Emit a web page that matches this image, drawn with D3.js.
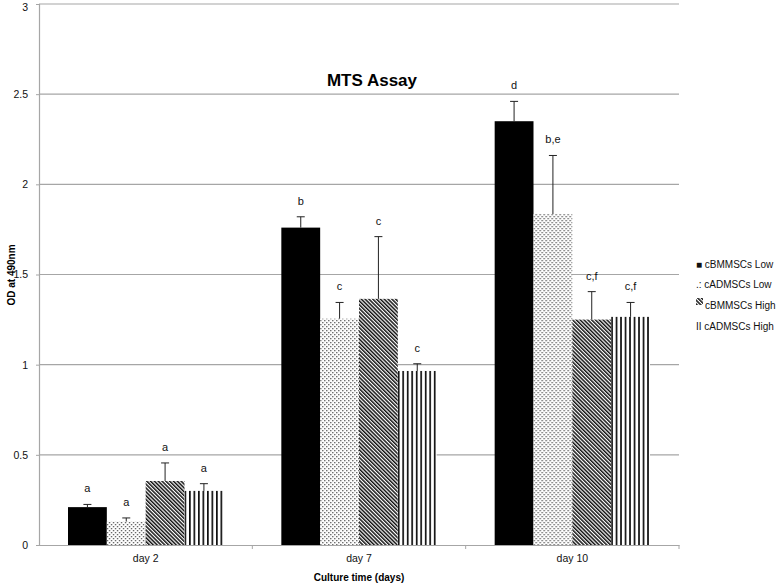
<!DOCTYPE html>
<html>
<head>
<meta charset="utf-8">
<script src="https://cdn.jsdelivr.net/npm/d3@7"></script>
<style>
  body { margin: 0; background: #fff; }
  svg { display: block; font-family: 'Liberation Sans', Arial, sans-serif; }
  .grid line { stroke: #a6a6a6; stroke-width: 1.2; }
  .lbl { font-size: 11px; fill: #111; text-anchor: middle; }
  .tick-label { font-size: 10.5px; fill: #111; }
</style>
</head>
<body>
<div id="chart"></div>
<script>
const days = ['day 2', 'day 7', 'day 10'];
const series = ['cBMMSCs Low', 'cADMSCs Low', 'cBMMSCs High', 'cADMSCs High'];
const means = [
  [0.21, 0.13, 0.355, 0.30],
  [1.76, 1.255, 1.365, 0.965],
  [2.35, 1.835, 1.25, 1.265]
];
const errors = [
  [0.015, 0.02, 0.10, 0.04],
  [0.06, 0.09, 0.345, 0.04],
  [0.11, 0.325, 0.155, 0.08]
];
const letters = [
  ['a', 'a', 'a', 'a'],
  ['b', 'c', 'c', 'c'],
  ['d', 'b,e', 'c,f', 'c,f']
];
const yTicks = [0, 0.5, 1, 1.5, 2, 2.5, 3];
const legendMarks = ['■', '.:', '', 'II'];

const width = 778, height = 583;
const plot = { left: 39, right: 679, top: 4, bottom: 545 };

const svg = d3.select('#chart').append('svg')
  .attr('width', width)
  .attr('height', height);

// fill patterns for the three non-solid series
const defs = svg.append('defs');

const dots = defs.append('pattern')
  .attr('id', 'dots')
  .attr('patternUnits', 'userSpaceOnUse')
  .attr('width', 4).attr('height', 4);
dots.append('rect').attr('width', 4).attr('height', 4).attr('fill', '#fff');
dots.append('rect').attr('x', 0).attr('y', 0).attr('width', 1.3).attr('height', 1.3).attr('fill', '#555');
dots.append('rect').attr('x', 2).attr('y', 2).attr('width', 1.3).attr('height', 1.3).attr('fill', '#555');

const diag = defs.append('pattern')
  .attr('id', 'diag')
  .attr('patternUnits', 'userSpaceOnUse')
  .attr('width', 2.7).attr('height', 3)
  .attr('patternTransform', 'rotate(-45)');
diag.append('rect').attr('width', 2.7).attr('height', 3).attr('fill', '#fff');
diag.append('rect').attr('x', 0).attr('y', 0).attr('width', 1.5).attr('height', 3).attr('fill', '#111');

const vert = defs.append('pattern')
  .attr('id', 'vert')
  .attr('patternUnits', 'userSpaceOnUse')
  .attr('width', 4.5).attr('height', 4);
vert.append('rect').attr('width', 4.5).attr('height', 4).attr('fill', '#fff');
vert.append('rect').attr('x', 0).attr('y', 0).attr('width', 1.7).attr('height', 4).attr('fill', '#111');

const fills = ['#000', 'url(#dots)', 'url(#diag)', 'url(#vert)'];

const x0 = d3.scaleBand().domain(days).range([plot.left, plot.right]);
const x1 = d3.scaleBand().domain(series).range([29, x0.bandwidth() - 29]);
const y = d3.scaleLinear().domain([0, 3]).range([plot.bottom, plot.top]);

// gridlines
svg.append('g')
  .attr('class', 'grid')
  .selectAll('line')
  .data(yTicks.slice(1))
  .join('line')
  .attr('x1', plot.left).attr('x2', plot.right)
  .attr('y1', d => y(d)).attr('y2', d => y(d));

// y axis
const yAxis = svg.append('g')
  .attr('transform', `translate(${plot.left},0)`)
  .call(d3.axisLeft(y).tickValues(yTicks).tickSize(3).tickPadding(8).tickFormat(d3.format('')));
yAxis.select('.domain').attr('stroke', '#a6a6a6').attr('stroke-width', 1.2);
yAxis.selectAll('.tick line').attr('stroke', '#a6a6a6');
yAxis.selectAll('text').attr('class', 'tick-label').style('font-size', '10.5px');
// keep the top label inside the frame
yAxis.selectAll('.tick').filter(d => d === 3).select('text').attr('y', 3);

// x axis
const xAxis = svg.append('g')
  .attr('transform', `translate(0,${plot.bottom})`)
  .call(d3.axisBottom(x0).tickSize(0).tickPadding(10));
xAxis.select('.domain').attr('stroke', '#a6a6a6').attr('stroke-width', 1.2);
xAxis.selectAll('text').attr('class', 'tick-label').style('font-size', '10.5px');
xAxis.selectAll('.sep')
  .data(days)
  .join('line')
  .attr('x1', d => x0(d) + x0.bandwidth()).attr('x2', d => x0(d) + x0.bandwidth())
  .attr('y1', 0).attr('y2', 4)
  .attr('stroke', '#a6a6a6');

// bars
const rows = [];
days.forEach((d, i) => series.forEach((s, j) => {
  rows.push({ day: d, s, j, v: means[i][j], e: errors[i][j], t: letters[i][j] });
}));

const groups = svg.append('g')
  .selectAll('g')
  .data(rows)
  .join('g')
  .attr('transform', d => `translate(${x0(d.day) + x1(d.s)},0)`);

groups.append('rect')
  .attr('x', 0)
  .attr('width', x1.bandwidth())
  .attr('y', d => y(d.v))
  .attr('height', d => y(0) - y(d.v))
  .attr('fill', d => fills[d.j]);

const bw = x1.bandwidth();
groups.append('line')
  .attr('x1', bw / 2).attr('x2', bw / 2)
  .attr('y1', d => y(d.v)).attr('y2', d => y(d.v + d.e))
  .attr('stroke', '#222').attr('stroke-width', 1);
groups.append('line')
  .attr('x1', bw / 2 - 4).attr('x2', bw / 2 + 4)
  .attr('y1', d => y(d.v + d.e)).attr('y2', d => y(d.v + d.e))
  .attr('stroke', '#222').attr('stroke-width', 1);

groups.append('text')
  .attr('class', 'lbl')
  .attr('x', bw / 2)
  .attr('y', d => y(d.v + d.e) - 12)
  .text(d => d.t);

// title and axis titles
svg.append('text')
  .attr('x', 372).attr('y', 86)
  .attr('text-anchor', 'middle')
  .style('font-size', '17px').style('font-weight', 'bold')
  .text('MTS Assay');

svg.append('text')
  .attr('transform', 'translate(15,275) rotate(-90)')
  .attr('text-anchor', 'middle')
  .style('font-size', '10px').style('font-weight', 'bold')
  .text('OD at 490nm');

svg.append('text')
  .attr('x', (plot.left + plot.right) / 2).attr('y', 581)
  .attr('text-anchor', 'middle')
  .style('font-size', '10px').style('font-weight', 'bold')
  .text('Culture time (days)');

// legend
const legendY = [264, 284, 305, 326];
const legend = svg.append('g')
  .selectAll('g')
  .data(series)
  .join('g')
  .attr('transform', (d, i) => `translate(696,${legendY[i]})`);

legend.filter((d, i) => i === 2)
  .append('rect')
  .attr('x', 0).attr('y', -7).attr('width', 7).attr('height', 7)
  .attr('fill', 'url(#diag)');

legend.append('text')
  .attr('x', 0).attr('y', 4)
  .style('font-size', '10px').attr('fill', '#111')
  .text((d, i) => legendMarks[i] ? `${legendMarks[i]} ${d}` : '');

legend.filter((d, i) => i === 2)
  .append('text')
  .attr('x', 9).attr('y', 4)
  .style('font-size', '10px').attr('fill', '#111')
  .text(d => d);
</script>
</body>
</html>
